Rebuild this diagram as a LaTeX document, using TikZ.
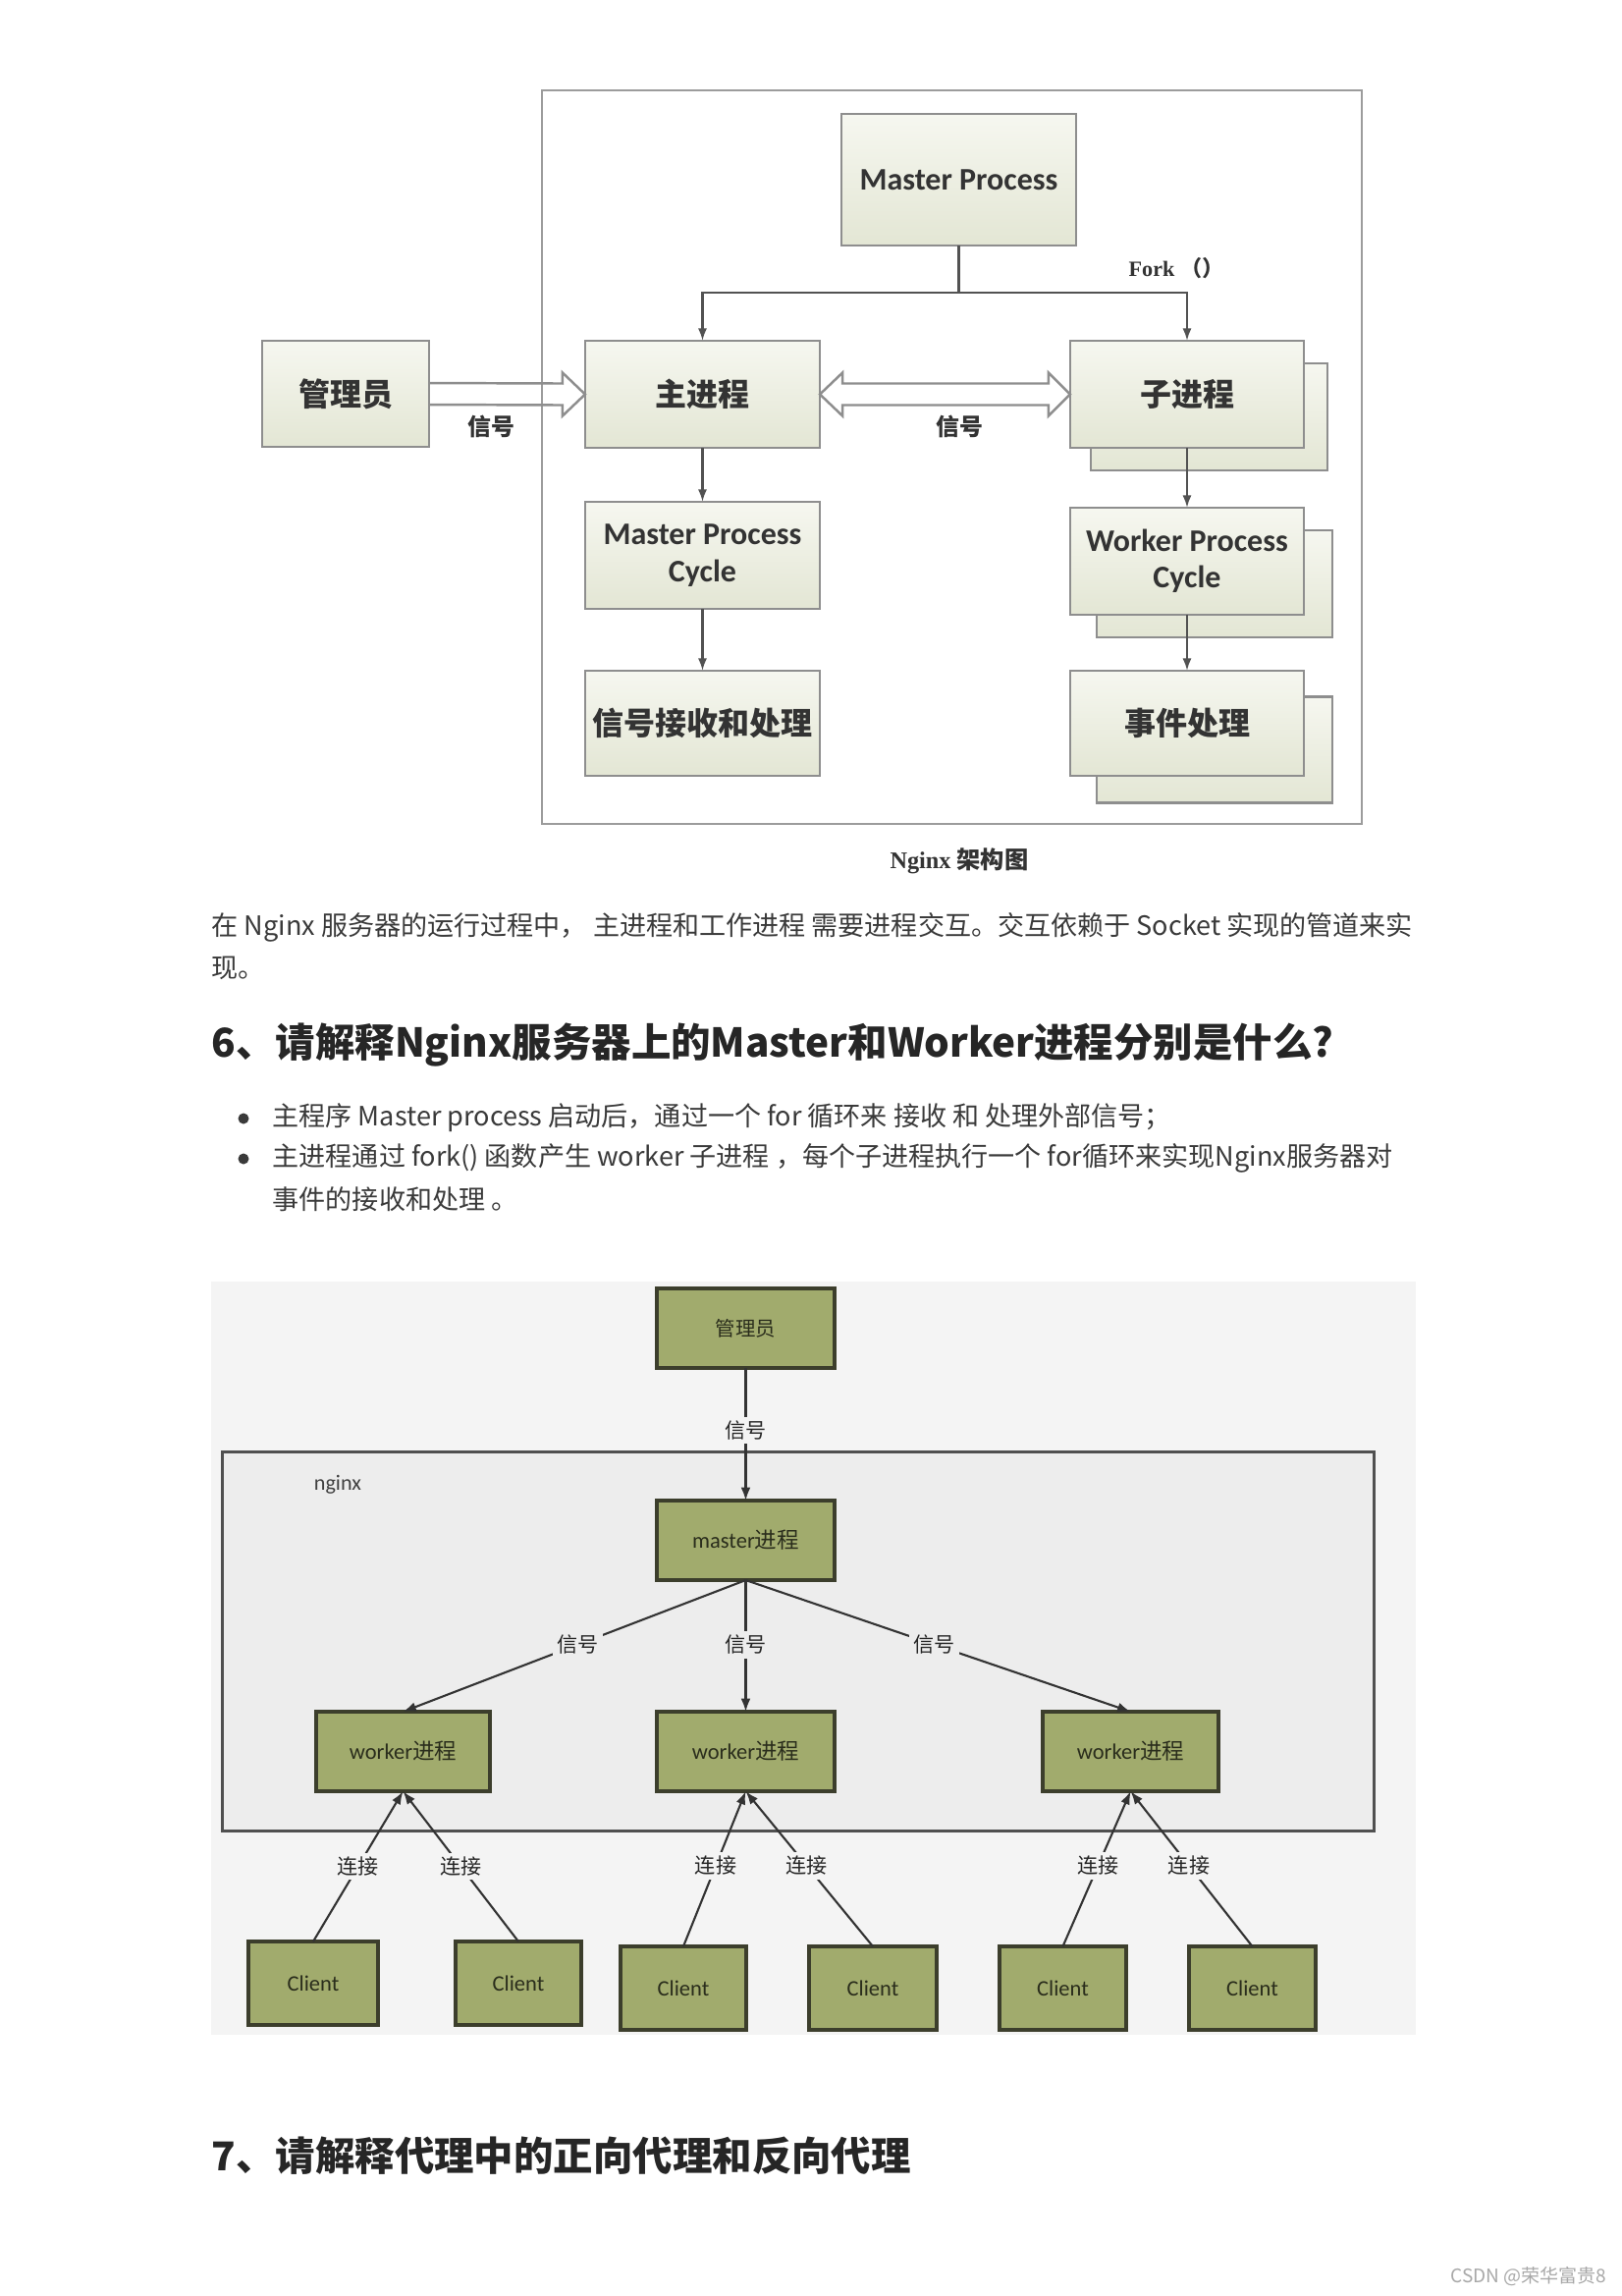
\documentclass[tikz,border=0pt]{standalone}
\usepackage{fontspec}
\setmainfont{Noto Sans CJK SC}
\newfontfamily\cjk{Noto Sans CJK SC}
\newfontfamily\cali{Carlito}
\newfontfamily\tser{Liberation Serif}
\usetikzlibrary{arrows.meta,calc}
\definecolor{boxtop}{HTML}{F6F7F0}
\definecolor{boxbot}{HTML}{E3E6D4}
\definecolor{boxline}{HTML}{8E8E8E}
\definecolor{framec}{HTML}{9C9C9C}
\definecolor{tdark}{HTML}{333333}
\definecolor{body}{HTML}{3A3A3A}
\definecolor{head}{HTML}{262626}
\definecolor{gfill}{HTML}{A1AB6D}
\definecolor{gline}{HTML}{3C3E2C}
\definecolor{gtext}{HTML}{2A2D1C}
\definecolor{bgg}{HTML}{F4F4F4}
\definecolor{ngxfill}{HTML}{EDEDED}
\definecolor{ngxline}{HTML}{505050}
\definecolor{wm}{HTML}{A8A8A8}
\tikzset{
  pbox/.style={draw=boxline, line width=0.7pt, top color=boxtop, bottom color=boxbot,
    inner sep=0pt, outer sep=0pt, text=tdark, align=center,
    font=\cjk\bfseries\fontsize{9.1}{10.5}\selectfont},
  ebox/.style={pbox, font=\cali\bfseries\fontsize{9.1}{10.6}\selectfont},
  tline/.style={draw=tdark!85, line width=0.6pt},
  tarrow/.style={tline, -{Latex[length=3.6pt,width=2.6pt]}},
  hollow/.style={draw=boxline, line width=0.7pt, line join=miter},
  tlbl/.style={inner sep=0pt, text=tdark, font=\cjk\bfseries\fontsize{6.8}{8}\selectfont},
  bodytxt/.style={anchor=west, inner sep=0pt, text=body, font=\cjk\fontsize{7.7}{9}\selectfont},
  headtxt/.style={anchor=west, inner sep=0pt, text=head, font=\cjk\bfseries\fontsize{11.5}{13}\selectfont},
  gbox/.style={draw=gline, line width=1pt, fill=gfill, inner sep=0pt, outer sep=0pt,
    text=gtext, font=\cali\fontsize{6.4}{7.5}\selectfont},
  cbox/.style={gbox, minimum width=1.29cm, minimum height=0.85cm},
  wbox/.style={gbox, minimum height=0.81cm},
  gedge/.style={draw=black!80, line width=0.6pt, -{Latex[length=3.8pt,width=2.8pt]}},
  glbl/.style={inner sep=1.2pt, text=black!85, font=\cjk\fontsize{6}{7}\selectfont},
}
\begin{document}
\begin{tikzpicture}[x=0.01cm,y=-0.01cm]
\useasboundingbox (0,0) rectangle (1652,2338);
\fill[white] (0,0) rectangle (1652,2338);

% ---------------- top diagram ----------------
\draw[draw=framec, line width=0.8pt] (552,92) rectangle (1387,839);

% shadow boxes
\node[pbox, minimum width=2.41cm, minimum height=1.09cm] (subs) at (1231.5,424.5) {};
\node[pbox, minimum width=2.40cm, minimum height=1.09cm] (wpcs) at (1237,594.5) {};
\node[pbox, minimum width=2.40cm, minimum height=1.08cm] (evts) at (1237,763.5) {};

\node[ebox, minimum width=2.39cm, minimum height=1.34cm] (mp) at (976.5,183) {Master Process};
\node[pbox, minimum width=1.70cm, minimum height=1.08cm] (adm) at (352,401) {管理员};
\node[pbox, minimum width=2.39cm, minimum height=1.09cm] (main) at (715.5,401.5) {主进程};
\node[pbox, minimum width=2.38cm, minimum height=1.09cm] (sub) at (1209,401.5) {子进程};
\node[ebox, minimum width=2.39cm, minimum height=1.09cm] (mpc) at (715.5,565.5) {Master Process\\Cycle};
\node[pbox, minimum width=2.39cm, minimum height=1.07cm] (sig) at (715.5,736.5) {信号接收和处理};
\node[ebox, minimum width=2.38cm, minimum height=1.09cm] (wpc) at (1209,571.5) {Worker Process\\Cycle};
\node[pbox, minimum width=2.38cm, minimum height=1.07cm] (evt) at (1209,736.5) {事件处理};

% fork connectors
\draw[tline] (mp.south) -- ++(0,48) coordinate (fk);
\draw[tarrow] (fk) -| (main.north);
\draw[tarrow] (fk) -| (sub.north);
\node[inner sep=0pt, text=tdark] (forkl) at (1198,273)
  {{\tser\bfseries\fontsize{6.3}{7}\selectfont Fork }{\cjk\bfseries\fontsize{6.3}{7}\selectfont （）}};

\draw[tarrow] (main.south) -- (mpc.north);
\draw[tarrow] (mpc.south) -- (sig.north);
\draw[tarrow] (sub.south) -- (wpc.north);
\draw[tarrow] (wpc.south) -- (evt.north);

% hollow arrow admin -> main
\draw[hollow] ($(adm.east)+(0,-11)$) -- ($(main.west)+(-23,-11)$) -- ($(main.west)+(-23,-22)$)
  -- (main.west) -- ($(main.west)+(-23,22)$) -- ($(main.west)+(-23,11)$) -- ($(adm.east)+(0,11)$);
% double hollow arrow main <-> sub
\draw[hollow] (main.east) -- ($(main.east)+(23,-22)$) -- ($(main.east)+(23,-11)$)
  -- ($(sub.west)+(-22,-11)$) -- ($(sub.west)+(-22,-22)$) -- (sub.west)
  -- ($(sub.west)+(-22,22)$) -- ($(sub.west)+(-22,11)$) -- ($(main.east)+(23,11)$)
  -- ($(main.east)+(23,22)$) -- cycle;
\node[tlbl] (l1) at (500,434) {信号};
\node[tlbl] (l2) at (977,434) {信号};

\node[inner sep=0pt, text=tdark] (cap) at (977,877)
  {{\tser\bfseries\fontsize{6.9}{8}\selectfont Nginx }{\cjk\bfseries\fontsize{6.9}{8}\selectfont 架构图}};

% ---------------- text ----------------
\node[bodytxt] (p1) at (215,944) {在 Nginx 服务器的运行过程中， 主进程和工作进程 需要进程交互。交互依赖于 Socket 实现的管道来实};
\node[bodytxt] (p2) at (215,986) {现。};
\node[headtxt] (h6) at (215,1064) {6、请解释Nginx服务器上的Master和Worker进程分别是什么?};
\fill[body] (248,1139) circle (5.5);
\fill[body] (248,1180) circle (5.5);
\node[bodytxt] (b1) at (277,1138) {主程序 Master process 启动后，通过一个 for 循环来 接收 和 处理外部信号；};
\node[bodytxt] (b2) at (277,1179) {主进程通过 fork() 函数产生 worker 子进程 ，每个子进程执行一个 for循环来实现Nginx服务器对};
\node[bodytxt] (b3) at (277,1221) {事件的接收和处理 。};

% ---------------- bottom diagram ----------------
\fill[bgg] (215,1305) rectangle (1442,2072);
\node[draw=ngxline, line width=0.9pt, fill=ngxfill, minimum width=11.72cm, minimum height=3.85cm,
  inner sep=0pt] (ngx) at (813,1671.5) {};
\node[inner sep=0pt, text=black!75, font=\cali\fontsize{6.3}{7}\selectfont] (ngxl) at (344,1512) {nginx};

\node[wbox, minimum width=1.81cm] (gadm) at (759.5,1352.5) {\cjk\fontsize{5.8}{7}\selectfont 管理员};
\node[wbox, minimum width=1.81cm] (gm) at (759.5,1568.5) {master{\cjk 进程}};
\node[wbox, minimum width=1.77cm] (w1) at (410.5,1783.5) {worker{\cjk 进程}};
\node[wbox, minimum width=1.81cm] (w2) at (759.5,1783.5) {worker{\cjk 进程}};
\node[wbox, minimum width=1.79cm] (w3) at (1151.5,1783.5) {worker{\cjk 进程}};

\node[cbox, minimum width=1.32cm] (c1) at (319,2019.5) {Client};
\node[cbox, minimum width=1.28cm] (c2) at (528,2019.5) {Client};
\node[cbox, minimum width=1.28cm] (c3) at (696,2024.5) {Client};
\node[cbox, minimum width=1.30cm] (c4) at (889,2024.5) {Client};
\node[cbox, minimum width=1.29cm] (c5) at (1082.5,2024.5) {Client};
\node[cbox, minimum width=1.29cm] (c6) at (1275.5,2024.5) {Client};

\draw[gedge] (gadm.south) -- node[glbl, fill=bgg, pos=0.47] (s0) {信号} (gm.north);
\draw[gedge] (gm.south) -- node[glbl, fill=ngxfill, pos=0.49] (s1) {信号} (w1.north);
\draw[gedge] (gm.south) -- node[glbl, fill=ngxfill, pos=0.49] (s2) {信号} (w2.north);
\draw[gedge] (gm.south) -- node[glbl, fill=ngxfill, pos=0.49] (s3) {信号} (w3.north);

\draw[gedge] (c1.north) -- node[glbl, fill=bgg, pos=0.5] (k1) {连接} (w1.south);
\draw[gedge] (c2.north) -- node[glbl, fill=bgg, pos=0.5] (k2) {连接} (w1.south);
\draw[gedge] (c3.north) -- node[glbl, fill=bgg, pos=0.52] (k3) {连接} (w2.south);
\draw[gedge] (c4.north) -- node[glbl, fill=bgg, pos=0.52] (k4) {连接} (w2.south);
\draw[gedge] (c5.north) -- node[glbl, fill=bgg, pos=0.52] (k5) {连接} (w3.south);
\draw[gedge] (c6.north) -- node[glbl, fill=bgg, pos=0.52] (k6) {连接} (w3.south);

% ---------------- heading 7 and watermark ----------------
\node[headtxt] (h7) at (215,2195) {7、请解释代理中的正向代理和反向代理};
\node[anchor=east, inner sep=0pt, text=wm, font=\cjk\fontsize{5.4}{6}\selectfont] (wmk) at (1637,2318) {CSDN @荣华富贵8};
\end{tikzpicture}
\end{document}
